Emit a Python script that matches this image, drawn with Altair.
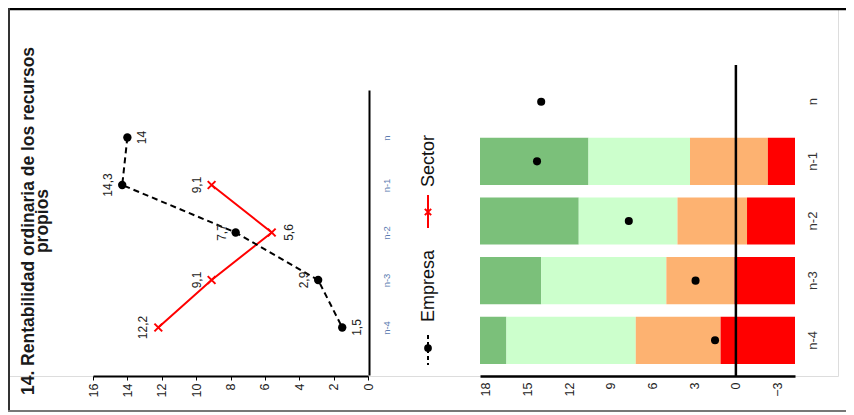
import altair as alt
import pandas as pd

# ---------------- data ----------------
years = ["n", "n-1", "n-2", "n-3", "n-4"]
empresa = [14.0, 14.3, 7.7, 2.9, 1.5]
sector = [None, 9.1, 5.6, 9.1, 12.2]
# sector quartile boundaries (bands of the right panel)
q75 = [None, 10.6, 11.3, 14.0, 16.5]
q50 = [None, 3.3, 4.2, 5.0, 7.2]
q25 = [None, -2.3, -0.8, 0.1, 1.1]
left_ticks = [16, 14, 12, 10, 8, 6, 4, 2, 0]
right_ticks = [18, 15, 12, 9, 6, 3, 0, -3]
left_domain = [0, 16]
right_domain = [-4.25, 18.4]
title_lines = ["14. Rentabilidad ordinaria de los recursos", "propios"]
series_names = ["Empresa", "Sector"]
band_names = ["Q4", "Q3", "Q2", "Q1"]
band_colors = ["#7bc07a", "#ccffcc", "#fdb271", "#ff0000"]

# label side for each point (style): -1 left of the point, +1 right
emp_side = [1, -1, -1, -1, 1]
sec_side = [0, -1, 1, -1, -1]

W, H = 830, 368
FONT = "Liberation Sans"


def fmt(v):
    return f"{v:g}".replace(".", ",")


# ---------------- frames ----------------
emp_df = pd.DataFrame({"year": years, "value": empresa, "idx": list(range(5)),
                       "label": [fmt(v) for v in empresa], "side": emp_side})
sec_rows = [(y, v, i, s) for i, (y, v, s) in enumerate(zip(years, sector, sec_side)) if v is not None]
sec_df = pd.DataFrame({"year": [r[0] for r in sec_rows], "value": [r[1] for r in sec_rows],
                       "idx": [r[2] for r in sec_rows], "label": [fmt(r[1]) for r in sec_rows],
                       "side": [r[3] for r in sec_rows]})

seg_rows = []
for y, a, b, c in zip(years, q75, q50, q25):
    if a is None:
        continue
    edges = [right_domain[1], a, b, c, right_domain[0]]
    for k in range(4):
        seg_rows.append({"year": y, "start": edges[k], "end": edges[k + 1], "band": band_names[k]})
seg_df = pd.DataFrame(seg_rows)

# ---------------- left panel (lines) ----------------
xL_axis = alt.Axis(orient="bottom", values=left_ticks, labelAngle=270, labelAlign="right",
                   labelBaseline="middle", tickSize=4, labelPadding=3, domainWidth=2,
                   domainColor="black", tickColor="black", grid=False, title=None,
                   labelFontSize=12.5, labelColor="#222222", labelFont=FONT)
yL_axis = alt.Axis(orient="right", offset=361 - W, domain=True, domainWidth=2, domainColor="black",
                   ticks=False, labelAngle=270, labelAlign="center", labelBaseline="top",
                   labelPadding=12, labelFontSize=9.5, labelColor="#5b7bb0", title=None,
                   grid=False, labelFont=FONT)
xL = lambda: alt.X("value:Q", scale=alt.Scale(domain=left_domain, range=[360, 85], nice=False, zero=False),
                   axis=xL_axis)
yL = lambda: alt.Y("year:N", scale=alt.Scale(type="point", domain=years, range=[82, 367], padding=1),
                   axis=yL_axis)

emp_line = alt.Chart(emp_df).mark_line(color="black", strokeDash=[6, 4], strokeWidth=2).encode(
    x=xL(), y=yL(), order="idx:O")
emp_pts = alt.Chart(emp_df).mark_circle(color="black", size=70, opacity=1).encode(x=xL(), y=yL())
sec_line = alt.Chart(sec_df).mark_line(color="#ff0000", strokeWidth=2).encode(
    x=xL(), y=yL(), order="idx:O")
sec_pts = alt.Chart(sec_df).mark_point(shape="M-1,-1L1,1M-1,1L1,-1", color="#ff0000", size=60,
                                       strokeWidth=2, filled=False, opacity=1).encode(x=xL(), y=yL())


def labels(df, side, dy):
    return alt.Chart(df[df["side"] == side]).mark_text(
        angle=270, align="center", baseline="middle", dy=dy, fontSize=12, font=FONT, color="#222222"
    ).encode(x=xL(), y=yL(), text="label:N")


left = alt.layer(
    sec_line, emp_line, sec_pts, emp_pts,
    labels(emp_df, -1, -14), labels(emp_df, 1, 15),
    labels(sec_df, -1, -15), labels(sec_df, 1, 17),
)

# ---------------- right panel (bars) ----------------
xR_axis = alt.Axis(orient="bottom", values=right_ticks, labelAngle=270, labelAlign="right",
                   labelBaseline="middle", ticks=False, labelPadding=6, domainWidth=2.5,
                   domainColor="black", grid=False, title=None, labelFontSize=12.5,
                   labelColor="#222222", labelFont=FONT)
yR_axis = alt.Axis(orient="right", offset=787 - W, domain=False, ticks=False, labelAngle=270,
                   labelAlign="center", labelBaseline="top", labelPadding=11, labelFontSize=13,
                   labelColor="#333333", title=None, grid=False, labelFont=FONT)
xR_scale = alt.Scale(domain=right_domain, range=[787, 472], nice=False, zero=False)
yR = lambda: alt.Y("year:N", scale=alt.Scale(type="band", domain=years, range=[57, 369],
                                             paddingInner=0.21, paddingOuter=0.22), axis=yR_axis)

bars = alt.Chart(seg_df).mark_bar(stroke=None).encode(
    x=alt.X("start:Q", scale=xR_scale, axis=xR_axis),
    x2="end:Q",
    y=yR(),
    color=alt.Color("band:N", scale=alt.Scale(domain=band_names, range=band_colors), legend=None),
)
zero = alt.Chart(pd.DataFrame({"z": [0]})).mark_rule(color="black", strokeWidth=2.5).encode(
    x=alt.X("z:Q", scale=xR_scale, axis=xR_axis), y=alt.value(57), y2=alt.value(369))
dots = alt.Chart(emp_df).mark_circle(color="black", size=65, opacity=1).encode(
    x=alt.X("value:Q", scale=xR_scale, axis=xR_axis), y=yR())

right = alt.layer(bars, zero, dots)

# ---------------- title, legend, frame ----------------
one = pd.DataFrame({"t": [0]})
title = alt.Chart(pd.DataFrame({"t": [title_lines]})).mark_text(
    angle=270, align="center", baseline="middle", fontSize=17.5, fontWeight="bold", font=FONT,
    color="#1a1a1a", lineHeight=14
).encode(x=alt.value(21), y=alt.value(213), text="t")

leg_text = alt.Chart(pd.DataFrame({"name": series_names, "ypos": [314, 179]})).mark_text(
    angle=270, align="left", baseline="middle", fontSize=18, font=FONT, color="#111111"
).encode(x=alt.value(421), y=alt.Y("ypos:Q", scale=None), text="name:N")
leg_emp_line = alt.Chart(one).mark_rule(color="black", strokeWidth=2, strokeDash=[4, 3]).encode(
    x=alt.value(420), y=alt.value(327), y2=alt.value(357))
leg_emp_pt = alt.Chart(one).mark_circle(color="black", size=60, opacity=1).encode(
    x=alt.value(420), y=alt.value(340))
leg_sec_line = alt.Chart(one).mark_rule(color="#ff0000", strokeWidth=2).encode(
    x=alt.value(420), y=alt.value(187), y2=alt.value(220))
leg_sec_pt = alt.Chart(one).mark_point(shape="M-1,-1L1,1M-1,1L1,-1", color="#ff0000", size=40,
                                       strokeWidth=2, filled=False, opacity=1).encode(
    x=alt.value(420), y=alt.value(204))

frame_top = alt.Chart(one).mark_rule(color="black", strokeWidth=2.5).encode(
    x=alt.value(0), x2=alt.value(W + 8), y=alt.value(1))
frame_left = alt.Chart(one).mark_rule(color="#333333", strokeWidth=2).encode(
    x=alt.value(1), y=alt.value(0), y2=alt.value(403))
frame_bottom = alt.Chart(one).mark_rule(color="#777777", strokeWidth=2).encode(
    x=alt.value(0), x2=alt.value(W + 8), y=alt.value(403))

deco = alt.layer(title, leg_text, leg_emp_line, leg_emp_pt, leg_sec_line, leg_sec_pt,
                 frame_top, frame_left, frame_bottom)

chart = alt.layer(left, right, deco).resolve_scale(
    x="independent", y="independent"
).properties(
    width=W, height=H,
    autosize=alt.AutoSizeParams(type="none"),
    padding={"left": 0, "top": 0, "right": 8, "bottom": 38},
).configure_view(stroke=None).configure(font=FONT)

chart.save("out.html", embed_options={"renderer": "svg", "actions": False})
